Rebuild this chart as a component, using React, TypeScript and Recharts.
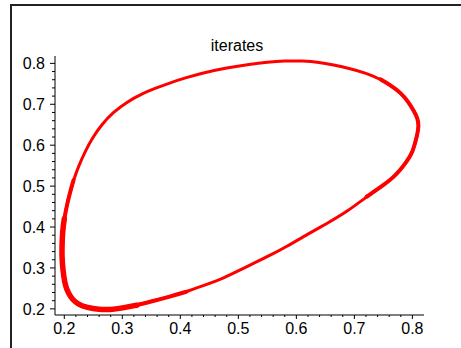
import React from 'react';
import { LineChart, Line, XAxis, YAxis } from 'recharts';

// Iterates along the invariant closed curve (in order)
const loopX = [
  0.58, 0.61, 0.64, 0.664, 0.69, 0.721, 0.745, 0.762, 0.78, 0.792, 0.803, 0.809, 0.811, 0.809,
  0.8, 0.79, 0.779, 0.766, 0.75, 0.721, 0.687, 0.652, 0.62, 0.583, 0.555, 0.526, 0.497, 0.468,
  0.44, 0.411, 0.382, 0.35, 0.325, 0.3, 0.279, 0.26, 0.239, 0.224, 0.214, 0.207, 0.202, 0.199, 0.197,
  0.196, 0.196, 0.197, 0.2, 0.204, 0.209, 0.216, 0.225, 0.236, 0.248, 0.264, 0.284, 0.308, 0.336,
  0.355, 0.383, 0.41, 0.44, 0.48, 0.52, 0.55,
];
const loopY = [
  0.806, 0.806, 0.803, 0.796, 0.788, 0.776, 0.761, 0.747, 0.728, 0.708, 0.683, 0.666, 0.648, 0.628,
  0.58, 0.56, 0.539, 0.52, 0.502, 0.474, 0.437, 0.408, 0.383, 0.352, 0.331, 0.311, 0.291, 0.271,
  0.257, 0.242, 0.23, 0.218, 0.209, 0.202, 0.198, 0.198, 0.203, 0.211, 0.223, 0.238, 0.256, 0.28, 0.305,
  0.33, 0.352, 0.39, 0.42, 0.45, 0.48, 0.515, 0.55, 0.585, 0.617, 0.65, 0.68, 0.706, 0.727, 0.738,
  0.753, 0.765, 0.777, 0.789, 0.798, 0.803,
];

// Stretches where the iterates are packed densely (drawn heavier)
const denseRight = [6, 19];
const denseBottomLeft = [29, 49];
const denseBottomLeftCore = [32, 46];

const xTicks = [
  0.2, 0.22, 0.24, 0.26, 0.28, 0.3, 0.32, 0.34, 0.36, 0.38, 0.4, 0.42, 0.44, 0.46, 0.48, 0.5, 0.52,
  0.54, 0.56, 0.58, 0.6, 0.62, 0.64, 0.66, 0.68, 0.7, 0.72, 0.74, 0.76, 0.78, 0.8,
];
const yTicks = [
  0.2, 0.22, 0.24, 0.26, 0.28, 0.3, 0.32, 0.34, 0.36, 0.38, 0.4, 0.42, 0.44, 0.46, 0.48, 0.5, 0.52,
  0.54, 0.56, 0.58, 0.6, 0.62, 0.64, 0.66, 0.68, 0.7, 0.72, 0.74, 0.76, 0.78, 0.8,
];

const title = 'iterates';

const data = loopX.map((x, i) => ({ x, y: loopY[i] }));
const seg = (r: number[]) => data.slice(r[0], r[1] + 1);

const FONT = '"Liberation Sans", Arial, sans-serif';

const isMajor = (v: number) => Math.abs(v * 10 - Math.round(v * 10)) < 1e-6;

const XTick = (props: any) => {
  const { x, y, payload } = props;
  const v = payload.value as number;
  const major = isMajor(v);
  return (
    <g>
      <line x1={x} x2={x} y1={y} y2={y + (major ? 4 : 2)} stroke="#000" strokeWidth={1} />
      {major && (
        <text x={x} y={y + 19} textAnchor="middle" fontSize={16} fontFamily={FONT} fill="#000">
          {v.toFixed(1)}
        </text>
      )}
    </g>
  );
};

const YTick = (props: any) => {
  const { x, y, payload } = props;
  const v = payload.value as number;
  const major = isMajor(v);
  return (
    <g>
      <line x1={x - (major ? 5 : 3)} x2={x} y1={y} y2={y} stroke="#000" strokeWidth={1} />
      {major && (
        <text x={x - 10} y={y + 6} textAnchor="end" fontSize={16} fontFamily={FONT} fill="#000">
          {v.toFixed(1)}
        </text>
      )}
    </g>
  );
};

export default function App() {
  return (
    <div
      style={{
        position: 'fixed',
        left: 0,
        top: 0,
        width: 461,
        height: 348,
        background: '#fff',
        overflow: 'hidden',
      }}
    >
      <div
        style={{
          position: 'absolute',
          left: 10,
          top: 4,
          width: 460,
          height: 360,
          borderTop: '2px solid #222',
          borderLeft: '2px solid #222',
        }}
      />
      <div
        style={{
          position: 'absolute',
          left: 187,
          width: 100,
          top: 37,
          textAlign: 'center',
          fontFamily: FONT,
          fontSize: 16,
          color: '#000',
        }}
      >
        {title}
      </div>
      <div style={{ position: 'absolute', left: 0, top: 0 }}>
        <LineChart width={461} height={348} data={data} margin={{ top: 56, right: 37, bottom: 0, left: 0 }}>
          <XAxis
            dataKey="x"
            type="number"
            domain={[0.184, 0.82]}
            ticks={xTicks}
            interval={0}
            height={33}
            tickSize={0}
            tickMargin={0}
            tickLine={false}
            axisLine={{ stroke: '#000', strokeWidth: 1 }}
            tick={<XTick />}
            allowDataOverflow
          />
          <YAxis
            type="number"
            domain={[0.185, 0.818]}
            ticks={yTicks}
            interval={0}
            width={55}
            tickSize={0}
            tickMargin={0}
            tickLine={false}
            axisLine={{ stroke: '#000', strokeWidth: 1 }}
            tick={<YTick />}
            allowDataOverflow
          />
          <Line
            dataKey="y"
            type="basisClosed"
            stroke="#ff0000"
            strokeWidth={3}
            dot={false}
            isAnimationActive={false}
          />
          <Line
            data={seg(denseRight)}
            dataKey="y"
            type="basis"
            stroke="#ff0000"
            strokeWidth={4}
            strokeLinecap="round"
            dot={false}
            isAnimationActive={false}
          />
          <Line
            data={seg(denseBottomLeft)}
            dataKey="y"
            type="basis"
            stroke="#ff0000"
            strokeWidth={4}
            strokeLinecap="round"
            dot={false}
            isAnimationActive={false}
          />
          <Line
            data={seg(denseBottomLeftCore)}
            dataKey="y"
            type="basis"
            stroke="#ff0000"
            strokeWidth={5.5}
            strokeLinecap="round"
            dot={false}
            isAnimationActive={false}
          />
        </LineChart>
      </div>
    </div>
  );
}
